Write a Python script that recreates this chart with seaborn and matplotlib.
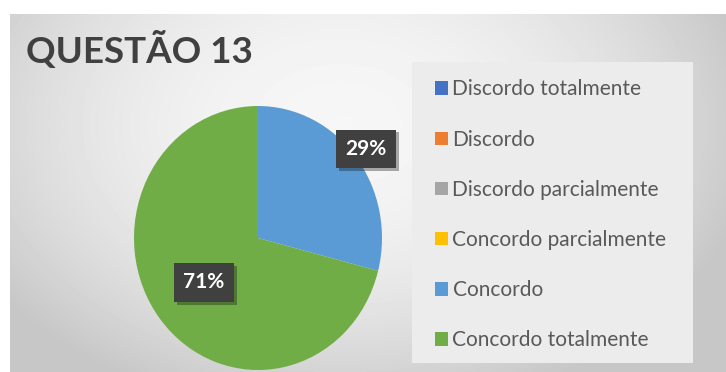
import numpy as np
import seaborn as sns
import matplotlib.pyplot as plt
from matplotlib.patches import Rectangle
import matplotlib.patheffects as pe

categories = ['Discordo totalmente', 'Discordo', 'Discordo parcialmente',
              'Concordo parcialmente', 'Concordo', 'Concordo totalmente']
percentages = [0, 0, 0, 0, 29, 71]
colors = ['#4472C4', '#ED7D31', '#A5A5A5', '#FFC000', '#5B9BD5', '#70AD47']
title = 'QUESTÃO 13'

sns.set_style('white')
plt.rcParams['font.family'] = ['Lato', 'DejaVu Sans']

W, H = 726, 372
fig = plt.figure(figsize=(W / 100, H / 100), dpi=100)
fig.patch.set_facecolor('white')

# soft gray radial background of the chart area
bg = fig.add_axes([10 / W, 0, (W - 10) / W, (H - 14) / H])
yy, xx = np.mgrid[0:358, 0:716]
d = ((xx - 330) / 400.0) ** 2 + ((yy - 110) / 280.0) ** 2
grad = np.clip(0.965 - 0.17 * d, 0.78, 1)
bg.imshow(grad, cmap='gray', vmin=0, vmax=1, aspect='auto', interpolation='bilinear')
bg.axis('off')

# legend panel
fig.patches.append(Rectangle((412 / W, 1 - 363 / H), 281 / W, 301 / H,
                             transform=fig.transFigure, facecolor='#ececec',
                             edgecolor='none', zorder=0))

fig.text(26 / W, 1 - 63 / H, title, fontsize=26.5, fontweight='bold',
         color='#404040', va='baseline', ha='left')

ax = fig.add_axes([134 / W, 2 / H, 248 / W, 264 / H])
pal = sns.color_palette(colors)
wedges, _ = ax.pie(percentages, colors=pal, startangle=90, counterclock=False,
                   wedgeprops=dict(linewidth=0))
ax.set_xlim(-1, 1)
ax.set_ylim(-1, 1)
ax.set_aspect('auto')
ax.axis('off')

label_dist = {'Concordo': 1.1, 'Concordo totalmente': 0.55}
for w, cat, val in zip(wedges, categories, percentages):
    if val == 0:
        continue
    ang = np.deg2rad((w.theta1 + w.theta2) / 2)
    r = label_dist[cat]
    t = ax.text(r * np.cos(ang), r * np.sin(ang), f'{val}%', color='white',
                fontsize=15, fontweight='bold', ha='center', va='center',
                bbox=dict(boxstyle='square,pad=0.45', facecolor='#404040',
                          edgecolor='none'))
    t.get_bbox_patch().set_path_effects(
        [pe.SimplePatchShadow(offset=(2, -2), alpha=0.35), pe.Normal()])

leg = fig.legend(wedges, categories, loc='upper left',
                 bbox_to_anchor=(425 / W, 1 - 69 / H), frameon=False,
                 fontsize=15, labelcolor='#595959', handlelength=0.62,
                 handleheight=0.62, handletextpad=0.2, labelspacing=1.45,
                 borderpad=0)

fig.savefig('out.png', dpi=100)
